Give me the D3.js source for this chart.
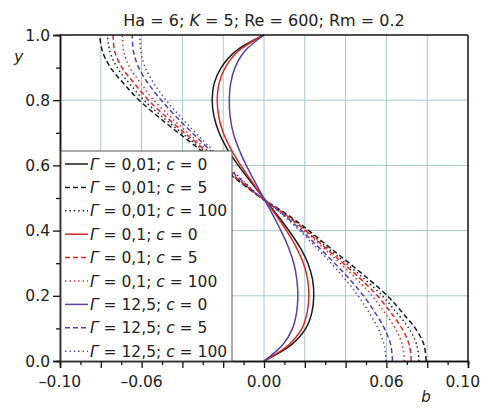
<!DOCTYPE html>
<html><head><meta charset="utf-8">
<script src="https://cdn.jsdelivr.net/npm/d3@7"></script>
<style>body{margin:0;background:#fff}svg{display:block}</style>
</head><body><svg id="c" width="483" height="408"></svg>
<script>
const yVals = [0,0.05,0.1,0.15,0.2,0.25,0.3,0.35,0.4,0.45,0.5,0.55,0.6,0.65,0.7,0.75,0.8,0.85,0.9,0.95,1];
const g001c0   = [0,0.0135,0.0205,0.0235,0.0244,0.0238,0.0215,0.0175,0.0122,0.0062,-0.0002,-0.0065,-0.0126,-0.018,-0.022,-0.0245,-0.0254,-0.0245,-0.021,-0.014,0];
const g001c5   = [0.0795,0.0784,0.0742,0.0676,0.0605,0.0515,0.0418,0.0318,0.0220,0.0112,-0.0012,-0.0120,-0.0224,-0.0318,-0.0420,-0.0520,-0.0612,-0.0686,-0.0752,-0.0792,-0.0806];
const g001c100 = [0.0760,0.0749,0.0710,0.0648,0.0580,0.0495,0.0402,0.0306,0.0210,0.0106,-0.0012,-0.0116,-0.0216,-0.0306,-0.0404,-0.0500,-0.0588,-0.0658,-0.0720,-0.0756,-0.0768];
const g01c0    = [0,0.0122,0.0186,0.0212,0.0220,0.0214,0.0193,0.0157,0.0110,0.0056,-0.0002,-0.0059,-0.0114,-0.0162,-0.0200,-0.0222,-0.0229,-0.0221,-0.0190,-0.0127,0];
const g01c5    = [0.0722,0.0712,0.0676,0.0620,0.0556,0.0476,0.0388,0.0296,0.0204,0.0103,-0.0012,-0.0113,-0.0210,-0.0296,-0.0390,-0.0482,-0.0566,-0.0634,-0.0696,-0.0732,-0.0740];
const g01c100  = [0.0688,0.0678,0.0643,0.0590,0.0530,0.0456,0.0373,0.0285,0.0197,0.0099,-0.0012,-0.0108,-0.0201,-0.0284,-0.0374,-0.0460,-0.0540,-0.0602,-0.0658,-0.0688,-0.0694];
const g125c0   = [0,0.0092,0.0140,0.0160,0.0166,0.0161,0.0146,0.0119,0.0083,0.0042,-0.0002,-0.0045,-0.0087,-0.0123,-0.0151,-0.0166,-0.0170,-0.0164,-0.0142,-0.0095,0];
const g125c5   = [0.0630,0.0621,0.0590,0.0543,0.0488,0.0421,0.0346,0.0266,0.0184,0.0093,-0.0012,-0.0102,-0.0190,-0.0270,-0.0352,-0.0432,-0.0504,-0.0566,-0.0614,-0.0640,-0.0646];
const g125c100 = [0.0598,0.0589,0.0559,0.0514,0.0462,0.0399,0.0329,0.0253,0.0175,0.0088,-0.0012,-0.0097,-0.0181,-0.0257,-0.0335,-0.0411,-0.0480,-0.0538,-0.0582,-0.0604,-0.0608];
const gammaLabels = ["0,01","0,01","0,01","0,1","0,1","0,1","12,5","12,5","12,5"];
const cLabels = ["0","5","100","0","5","100","0","5","100"];
const xTickLabels = ["–0.10","–0.06","0.00","0.06","0.10"];
const xTickVals = [-0.10,-0.06,0.00,0.06,0.10];
const yTickLabels = ["0.0","0.2","0.4","0.6","0.8","1.0"];

const seriesVals = [g001c0,g001c5,g001c100,g01c0,g01c5,g01c100,g125c0,g125c5,g125c100];
const colors = ["#1a1a1a","#1a1a1a","#1a1a1a","#d62a2a","#d62a2a","#d62a2a","#5a3fa3","#5a3fa3","#5a3fa3"];
const dashes = [null,"5,3","1.4,3",null,"5,3","1.4,3",null,"5,3","1.4,3"];

const FONT = "DejaVu Sans, sans-serif";
const svg = d3.select("#c");
const L=60,R=468,T=35,B=361;
const x = d3.scaleLinear().domain([-0.1,0.1]).range([L,R]);
const y = d3.scaleLinear().domain([0,1]).range([B,T]);

// grid
const gridC = "#a9c6cb";
svg.append("g").selectAll("line").data(d3.range(-0.08,0.0801,0.02)).join("line")
  .attr("x1",d=>x(d)).attr("x2",d=>x(d)).attr("y1",T).attr("y2",B)
  .attr("stroke",gridC).attr("stroke-width",1);
svg.append("g").selectAll("line").data([0.2,0.4,0.6,0.8]).join("line")
  .attr("x1",L).attr("x2",R).attr("y1",d=>y(d)).attr("y2",d=>y(d))
  .attr("stroke",gridC).attr("stroke-width",1);

// curves
const line = d3.line().x(d=>x(d[0])).y(d=>y(d[1])).curve(d3.curveCatmullRom);
seriesVals.forEach((vals,i)=>{
  const pts = vals.map((b,j)=>[b,yVals[j]]);
  svg.append("path").attr("d",line(pts)).attr("fill","none")
    .attr("stroke",colors[i]).attr("stroke-width",1.5)
    .attr("stroke-dasharray",dashes[i]);
});

// axes
const xAxis = d3.axisBottom(x).tickValues(d3.range(-0.1,0.1001,0.02)).tickSize(7).tickFormat("");
const gx = svg.append("g").attr("transform",`translate(0,${B})`).call(xAxis);
const xMinor = d3.axisBottom(x).tickValues(d3.range(-0.09,0.1,0.02)).tickSize(4).tickFormat("");
const gxm = svg.append("g").attr("transform",`translate(0,${B})`).call(xMinor);
const yAxis = d3.axisLeft(y).tickValues([0,0.2,0.4,0.6,0.8,1.0]).tickSize(7).tickFormat("");
const gy = svg.append("g").attr("transform",`translate(${L},0)`).call(yAxis);
const yMinor = d3.axisLeft(y).tickValues([0.1,0.3,0.5,0.7,0.9]).tickSize(4).tickFormat("");
const gym = svg.append("g").attr("transform",`translate(${L},0)`).call(yMinor);
[gx,gxm,gy,gym].forEach(g=>{g.selectAll("path").attr("stroke","#111").attr("stroke-width",1.5);g.selectAll("line").attr("stroke","#111").attr("stroke-width",1.3);});
// frame top/right
svg.append("line").attr("x1",L).attr("x2",R).attr("y1",T).attr("y2",T).attr("stroke","#111").attr("stroke-width",1.5);
svg.append("line").attr("x1",R).attr("x2",R).attr("y1",T).attr("y2",B).attr("stroke","#111").attr("stroke-width",1.5);

// tick labels
svg.append("g").selectAll("text").data(xTickVals).join("text")
  .attr("x",(d,i)=> i===xTickVals.length-1 ? 480 : x(d))
  .attr("y",387).attr("text-anchor",(d,i)=> i===xTickVals.length-1 ? "end":"middle")
  .attr("font-family",FONT).attr("font-size",15.5).attr("fill","#222")
  .text((d,i)=>xTickLabels[i]);
svg.append("g").selectAll("text").data([0,0.2,0.4,0.6,0.8,1.0]).join("text")
  .attr("x",50).attr("y",d=>y(d)+5.5).attr("text-anchor","end")
  .attr("font-family",FONT).attr("font-size",15.5).attr("fill","#222")
  .text((d,i)=>yTickLabels[i]);

// axis titles
svg.append("text").attr("x",14).attr("y",62).attr("font-family",FONT).attr("font-size",16)
  .attr("font-style","italic").attr("fill","#222").text("y");
svg.append("text").attr("x",426).attr("y",402).attr("text-anchor","middle").attr("font-family",FONT).attr("font-size",15)
  .attr("font-style","italic").attr("fill","#222").text("b");

// title
const tt = svg.append("text").attr("x",264).attr("y",26).attr("text-anchor","middle")
  .attr("font-family",FONT).attr("font-size",16).attr("fill","#222");
tt.append("tspan").text("Ha = 6; ");
tt.append("tspan").attr("font-style","italic").text("K");
tt.append("tspan").text(" = 5; Re = 600; Rm = 0.2");

// legend
const lg = svg.append("g");
lg.append("rect").attr("x",61).attr("y",151).attr("width",171).attr("height",210)
  .attr("fill","#fff").attr("stroke","#555").attr("stroke-width",1);
const rowY = i => 164 + i*23.4;
seriesVals.forEach((v,i)=>{
  lg.append("line").attr("x1",65).attr("x2",88).attr("y1",rowY(i)).attr("y2",rowY(i))
    .attr("stroke",colors[i]).attr("stroke-width",1.5).attr("stroke-dasharray",dashes[i]);
  const t = lg.append("text").attr("x",90).attr("y",rowY(i)+5.5)
    .attr("font-family",FONT).attr("font-size",15.5).attr("fill","#222");
  t.append("tspan").attr("font-style","italic").text("Γ");
  t.append("tspan").text(" = "+gammaLabels[i]+"; ");
  t.append("tspan").attr("font-style","italic").text("c");
  t.append("tspan").text(" = "+cLabels[i]);
});
</script></body></html>
